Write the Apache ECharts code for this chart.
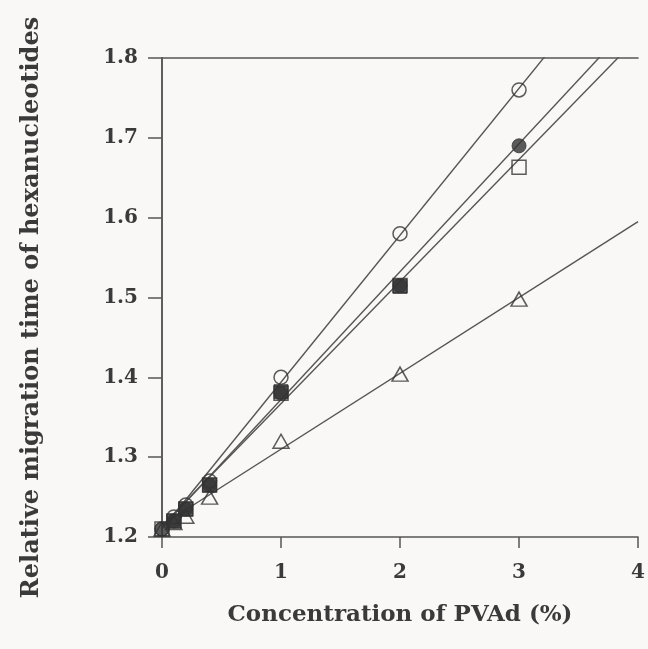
<!DOCTYPE html>
<html>
<head>
<meta charset="utf-8">
<script src="https://cdn.jsdelivr.net/npm/echarts@6/dist/echarts.min.js"></script>
<style>
html,body{margin:0;padding:0;background:#f9f8f7;}
#c{width:648px;height:649px;}
</style>
</head>
<body>
<div id="c"></div>
<script>
// Data
const xValues = [0, 0.1, 0.2, 0.4, 1, 2, 3];
const openCircle = [1.21, 1.225, 1.24, 1.27, 1.40, 1.58, 1.76];
const filledCircle = [1.21, 1.22, 1.235, 1.265, 1.38, 1.515, 1.69];
const openSquare = [1.21, 1.22, 1.235, 1.265, 1.38, 1.515, 1.663];
const filledSquare = [null, 1.22, 1.235, 1.265, 1.382, 1.514, null];
const openTriangle = [1.21, 1.218, 1.226, 1.25, 1.32, 1.404, 1.498];
// Fitted regression lines (intercept, slope) for: open circle, filled circle, open square, triangle
const fitIntercept = [1.21, 1.212, 1.214, 1.215];
const fitSlope = [0.184, 0.1602, 0.153, 0.095];
const xTicks = [0, 1, 2, 3, 4];
const yTicks = [1.2, 1.3, 1.4, 1.5, 1.6, 1.7, 1.8];
const xTitle = 'Concentration of PVAd (%)';
const yTitle = 'Relative migration time of hexanucleotides';

const ink = '#3a3a3a';
const lineCol = '#555555';
const font = 'DejaVu Serif';

function pairs(ys) {
  const out = [];
  xValues.forEach((x, i) => { if (ys[i] != null) out.push([x, ys[i]]); });
  return out;
}
function fitLine(i) {
  const x0 = xTicks[0], x1 = xTicks[xTicks.length - 1];
  return [[x0, fitIntercept[i] + fitSlope[i] * x0], [x1, fitIntercept[i] + fitSlope[i] * x1]];
}

const lineSeries = [0, 1, 2, 3].map(i => ({
  type: 'line', data: fitLine(i), symbol: 'none', clip: true, z: 1,
  lineStyle: { color: lineCol, width: 1.4 }, silent: true, animation: false
}));

const hollow = { color: 'rgba(0,0,0,0)', borderColor: '#333', borderWidth: 1.5 };
const solid = { color: '#333', borderColor: '#333', borderWidth: 1 };

const scatterSeries = [
  { type: 'scatter', data: pairs(openCircle), symbol: 'circle', symbolSize: 14, itemStyle: hollow },
  { type: 'scatter', data: pairs(filledCircle), symbol: 'circle', symbolSize: 14, itemStyle: solid },
  { type: 'scatter', data: pairs(openSquare), symbol: 'rect', symbolSize: 14, itemStyle: hollow },
  { type: 'scatter', data: pairs(filledSquare), symbol: 'rect', symbolSize: 14, itemStyle: solid },
  { type: 'scatter', data: pairs(openTriangle), symbol: 'triangle', symbolSize: [16, 14], itemStyle: hollow }
].map(s => Object.assign(s, { z: 3, animation: false }));

const chart = echarts.init(document.getElementById('c'), null, { renderer: 'canvas' });
chart.setOption({
  backgroundColor: '#f9f8f7',
  animation: false,
  grid: { left: 162, right: 6, top: 58, bottom: 112, containLabel: false },
  xAxis: [{
    type: 'value', min: xTicks[0], max: xTicks[xTicks.length - 1], interval: 1,
    position: 'bottom',
    name: xTitle, nameLocation: 'middle', nameGap: 67,
    nameTextStyle: { fontFamily: font, fontWeight: 'bold', fontSize: 23, color: ink },
    axisLine: { show: true, lineStyle: { color: lineCol, width: 1.5 } },
    axisTick: { show: true, inside: false, length: 11, lineStyle: { color: lineCol, width: 1.5 } },
    axisLabel: { fontFamily: font, fontWeight: 'bold', fontSize: 20, color: ink, margin: 26 },
    splitLine: { show: false }
  }, {
    type: 'value', min: xTicks[0], max: xTicks[xTicks.length - 1], interval: 1,
    position: 'top',
    axisLine: { show: true, lineStyle: { color: lineCol, width: 1.5 } },
    axisTick: { show: false }, axisLabel: { show: false }, splitLine: { show: false }
  }],
  yAxis: [{
    type: 'value', min: yTicks[0], max: yTicks[yTicks.length - 1], interval: 0.1,
    position: 'left',
    name: yTitle, nameLocation: 'middle', nameGap: 118, nameRotate: 90,
    nameTextStyle: { fontFamily: font, fontWeight: 'bold', fontSize: 24, color: ink, padding: [0, 20, 0, 0] },
    axisLine: { show: true, lineStyle: { color: lineCol, width: 1.5 } },
    axisTick: { show: true, inside: false, length: 14, lineStyle: { color: lineCol, width: 1.5 } },
    axisLabel: { fontFamily: font, fontWeight: 'bold', fontSize: 20, color: ink, margin: 24,
      formatter: v => v.toFixed(1) },
    splitLine: { show: false }
  }, {
    type: 'value', min: yTicks[0], max: yTicks[yTicks.length - 1], interval: 0.1,
    position: 'right',
    axisLine: { show: true, lineStyle: { color: lineCol, width: 1.5 } },
    axisTick: { show: false }, axisLabel: { show: false }, splitLine: { show: false }
  }],
  series: lineSeries.concat(scatterSeries)
});
</script>
</body>
</html>
